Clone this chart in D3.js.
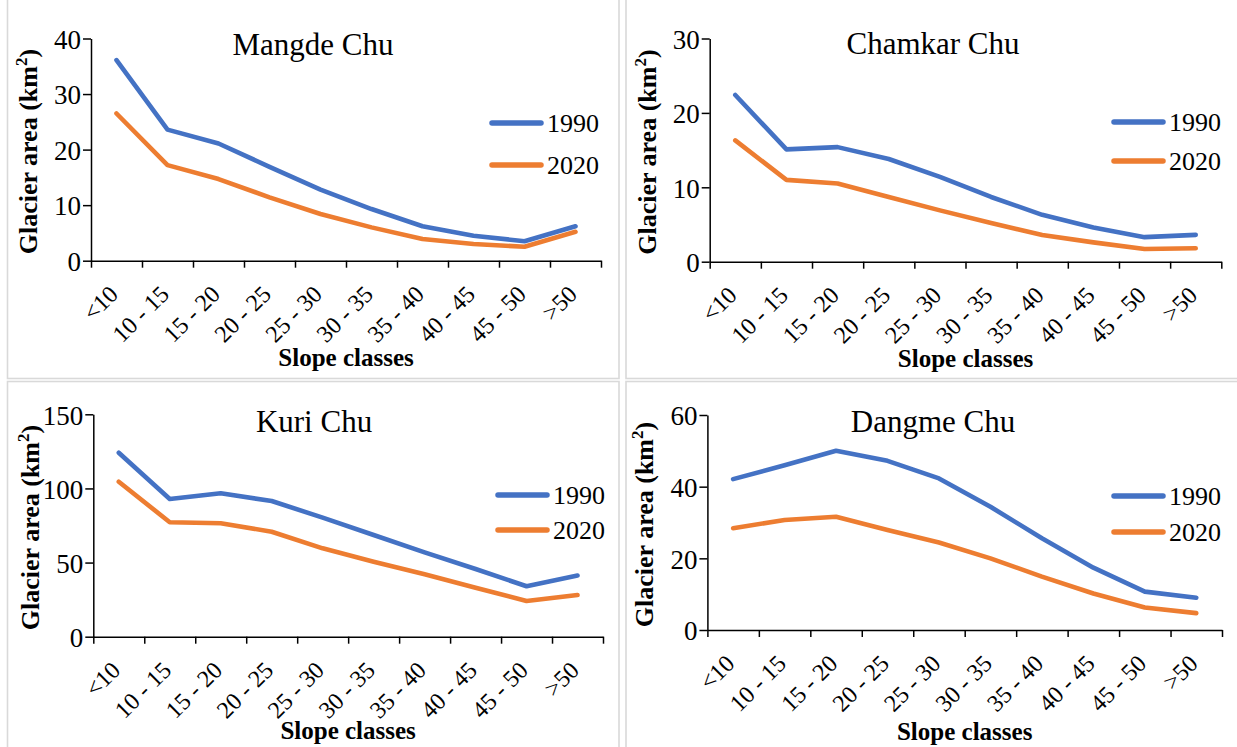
<!DOCTYPE html>
<html>
<head>
<meta charset="utf-8">
<script src="https://cdn.jsdelivr.net/npm/d3@7"></script>
<style>
  html, body { margin: 0; padding: 0; background: #ffffff; }
  svg { display: block; }
  text { font-family: "Liberation Serif", "Times New Roman", serif; fill: #000; }
</style>
</head>
<body>
<svg id="chart" width="1237" height="747"></svg>
<script>
// Slope classes (degrees)
const categories = ["<10", "10 - 15", "15 - 20", "20 - 25", "25 - 30", "30 - 35", "35 - 40", "40 - 45", "45 - 50", ">50"];
const years = ["1990", "2020"];

// Glacier area (km²) per slope class
const mangde1990 = [36.1, 23.6, 21.1, 16.9, 12.8, 9.3, 6.2, 4.5, 3.5, 6.2];
const mangde2020 = [26.5, 17.2, 14.7, 11.4, 8.4, 6.0, 3.9, 3.0, 2.5, 5.2];
const chamkar1990 = [22.4, 15.1, 15.4, 13.8, 11.4, 8.7, 6.3, 4.6, 3.3, 3.6];
const chamkar2020 = [16.3, 11.0, 10.5, 8.7, 6.9, 5.2, 3.6, 2.6, 1.7, 1.8];
const kuri1990 = [124.1, 92.9, 96.7, 91.5, 80.3, 68.6, 56.9, 45.7, 34.0, 41.3];
const kuri2020 = [104.5, 77.2, 76.5, 70.8, 59.6, 50.6, 42.1, 33.0, 24.1, 28.1];
const dangme1990 = [42.1, 46.0, 50.0, 47.2, 42.3, 34.4, 25.6, 17.4, 10.7, 9.0];
const dangme2020 = [28.4, 30.7, 31.6, 27.9, 24.4, 20.0, 14.9, 10.2, 6.3, 4.7];

// Basin names and y-axis tick values
const basins = ["Mangde Chu", "Chamkar Chu", "Kuri Chu", "Dangme Chu"];
const yTicksMangde = [0, 10, 20, 30, 40];
const yTicksChamkar = [0, 10, 20, 30];
const yTicksKuri = [0, 50, 100, 150];
const yTicksDangme = [0, 20, 40, 60];

const colors = { "1990": "#4472C4", "2020": "#ED7D31" };

// Panel layout: frame box, plot box, title, legend and axis-title placement
const panels = [
  { name: basins[0], s1990: mangde1990, s2020: mangde2020, ticks: yTicksMangde,
    frame: [7.5, -2, 619, 378.5], x0: 91, x1: 601, yTop: 38.5, yBot: 260.7,
    titleX: 313, titleY: 55, legX: 490, legY: [123, 165], xLabY: 366 },
  { name: basins[1], s1990: chamkar1990, s2020: chamkar2020, ticks: yTicksChamkar,
    frame: [626, -2, 1240, 378.5], x0: 709.7, x1: 1221.3, yTop: 38.5, yBot: 261.7,
    titleX: 933, titleY: 54, legX: 1112, legY: [122, 161], xLabY: 367 },
  { name: basins[2], s1990: kuri1990, s2020: kuri2020, ticks: yTicksKuri,
    frame: [7.5, 381.5, 619, 750], x0: 93.3, x1: 603, yTop: 414.3, yBot: 636.7,
    titleX: 314, titleY: 432, legX: 496, legY: [495, 530], xLabY: 739 },
  { name: basins[3], s1990: dangme1990, s2020: dangme2020, ticks: yTicksDangme,
    frame: [626, 381.5, 1240, 750], x0: 707.4, x1: 1222, yTop: 415, yBot: 630,
    titleX: 933, titleY: 432, legX: 1112, legY: [496, 532], xLabY: 740 }
];

const svg = d3.select("#chart");

panels.forEach(p => {
  const g = svg.append("g");

  // light frame around each panel
  g.append("rect")
    .attr("x", p.frame[0]).attr("y", p.frame[1])
    .attr("width", p.frame[2] - p.frame[0]).attr("height", p.frame[3] - p.frame[1])
    .attr("fill", "none").attr("stroke", "#d9d9d9").attr("stroke-width", 1.6);

  // scales: slot index along x (category centres at i + 0.5), area along y
  const xs = d3.scaleLinear().domain([0, categories.length]).range([p.x0, p.x1]);
  const ys = d3.scaleLinear().domain([0, d3.max(p.ticks)]).range([p.yBot, p.yTop]);

  // y axis
  const yAxis = g.append("g")
    .attr("transform", `translate(${p.x0},0)`)
    .call(d3.axisLeft(ys).tickValues(p.ticks).tickSize(8).tickSizeOuter(0).tickPadding(2));
  yAxis.select(".domain").attr("stroke", "#000").attr("stroke-width", 1.5);
  yAxis.selectAll(".tick line").attr("stroke", "#000").attr("stroke-width", 1.5);
  yAxis.selectAll(".tick text")
    .attr("font-family", "Liberation Serif").attr("font-size", 27).attr("dy", "0.36em");

  // x axis with ticks at class boundaries
  const xAxis = g.append("g")
    .attr("transform", `translate(0,${p.yBot})`)
    .call(d3.axisBottom(xs).tickValues(d3.range(categories.length + 1)).tickSize(7).tickSizeOuter(0).tickFormat(""));
  xAxis.select(".domain").attr("stroke", "#000").attr("stroke-width", 1.5);
  xAxis.selectAll(".tick line").attr("stroke", "#000").attr("stroke-width", 1.5);

  // rotated category labels
  g.selectAll("text.cat")
    .data(categories)
    .join("text")
    .attr("class", "cat")
    .attr("transform", (d, i) => `translate(${xs(i + 0.5) - 3},${p.yBot + 29}) rotate(-45)`)
    .attr("text-anchor", "end")
    .attr("dy", "0.35em")
    .attr("font-size", 24)
    .text(d => d);

  // series lines
  const line = d3.line()
    .x((d, i) => xs(i + 0.5))
    .y(d => ys(d));
  [["1990", p.s1990], ["2020", p.s2020]].forEach(([yr, vals]) => {
    g.append("path")
      .datum(vals)
      .attr("d", line)
      .attr("fill", "none")
      .attr("stroke", colors[yr])
      .attr("stroke-width", 4.6)
      .attr("stroke-linejoin", "round")
      .attr("stroke-linecap", "round");
  });

  // title
  g.append("text")
    .attr("x", p.titleX).attr("y", p.titleY)
    .attr("text-anchor", "middle")
    .attr("font-size", 31)
    .text(p.name);

  // legend
  years.forEach((yr, k) => {
    g.append("line")
      .attr("x1", p.legX + 2).attr("x2", p.legX + 51)
      .attr("y1", p.legY[k]).attr("y2", p.legY[k])
      .attr("stroke", colors[yr]).attr("stroke-width", 5.5)
      .attr("stroke-linecap", "round");
    g.append("text")
      .attr("x", p.legX + 57).attr("y", p.legY[k])
      .attr("dy", "0.35em")
      .attr("font-size", 26)
      .text(yr);
  });

  // axis titles
  g.append("text")
    .attr("x", (p.x0 + p.x1) / 2).attr("y", p.xLabY)
    .attr("text-anchor", "middle")
    .attr("font-size", 25).attr("font-weight", "bold")
    .text("Slope classes");

  const yl = g.append("text")
    .attr("transform", `translate(${p.x0 - 54},${(p.yTop + p.yBot) / 2 + 2}) rotate(-90)`)
    .attr("text-anchor", "middle")
    .attr("font-size", 26).attr("font-weight", "bold");
  yl.append("tspan").text("Glacier area (km");
  yl.append("tspan").attr("font-size", 17).attr("dy", -10).text("2");
  yl.append("tspan").attr("dy", 10).text(")");
});
</script>
</body>
</html>
